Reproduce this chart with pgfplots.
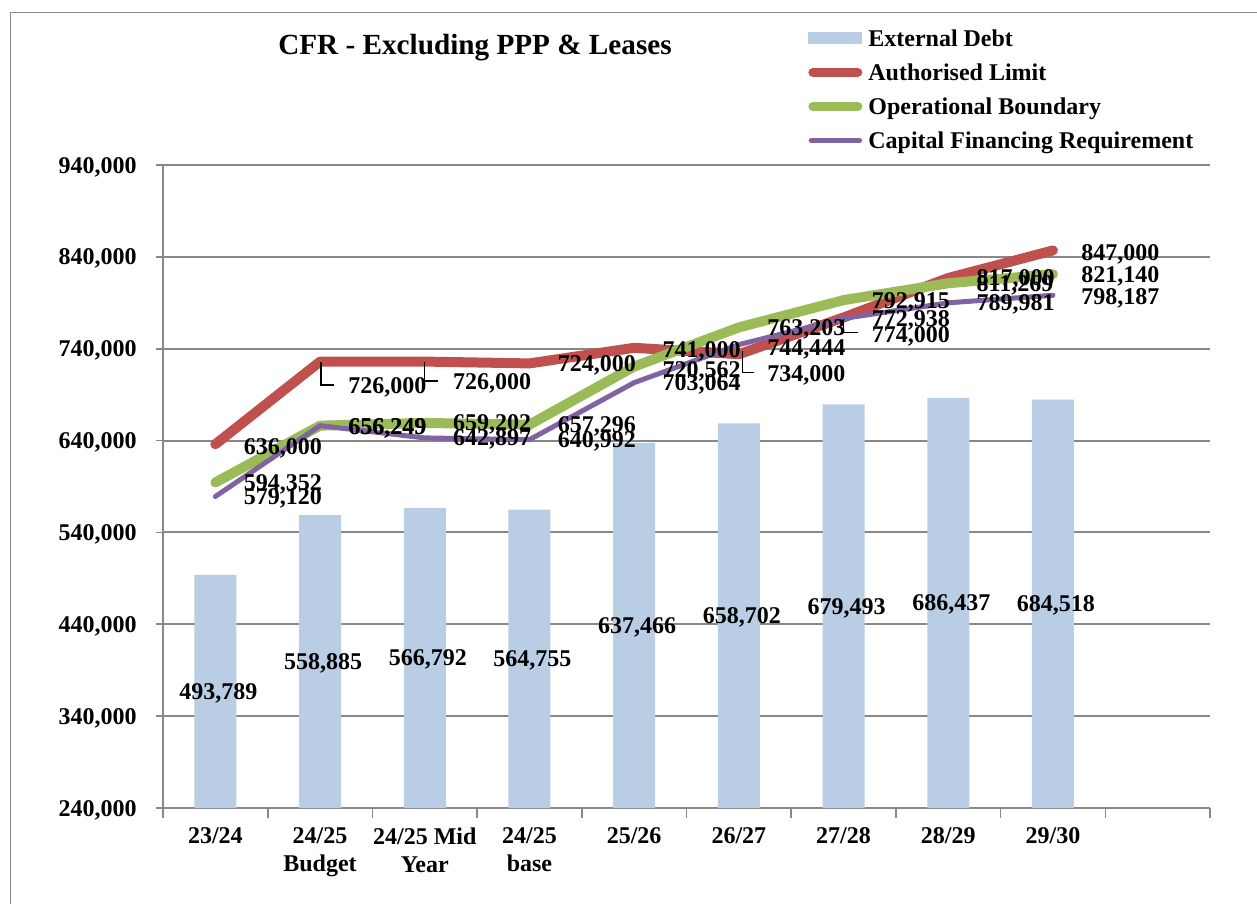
\documentclass[border=0pt]{standalone}
\usepackage{pgfplots}
\pgfplotsset{compat=1.18}
\usepackage{pgfplotstable}
\usepackage{fontspec}
\setmainfont{Liberation Serif}
\definecolor{bargray}{RGB}{185,205,229}
\definecolor{alred}{RGB}{192,80,77}
\definecolor{obgreen}{RGB}{155,187,89}
\definecolor{cfrpurple}{RGB}{128,100,162}
\definecolor{gridgray}{RGB}{136,136,136}

\pgfplotstableread{
x ext lab
0 493789 493,789
1 558885 558,885
2 566792 566,792
3 564755 564,755
4 637466 637,466
5 658702 658,702
6 679493 679,493
7 686437 686,437
8 684518 684,518
}\extdebt

% dy: vertical offset of the data label, in pt
\pgfplotstableread{
x y lab dy
0 636000 636,000 -1
1 726000 726,000 -12
2 726000 726,000 -10
3 724000 724,000 0
4 741000 741,000 -1
5 734000 734,000 -9.5
6 774000 774,000 -8.5
7 817000 817,000 0
8 847000 847,000 -1
}\authlim

\pgfplotstableread{
x y lab dy
0 594352 594,352 0
1 656249 656,249 -0.5
2 659202 659,202 0
3 657296 657,296 0
4 720562 720,562 -1.7
5 763203 763,203 0
6 792915 792,915 0
7 811269 811,269 0
8 821140 821,140 -0.4
}\opbound

\pgfplotstableread{
x y lab dy
0 579120 579,120 0
1 656249 656,249 -0.5
2 642897 642,897 0
3 640992 640,992 0
4 703064 703,064 0
5 744444 744,444 -1.2
6 772938 772,938 0
7 789981 789,981 0
8 798187 798,187 -0.8
}\cfr

\pgfplotsset{
  linelabel/.style={forget plot, draw=none, nodes near coords, point meta=explicit symbolic,
    every node near coord/.append style={anchor=west, xshift=14pt, inner sep=0pt, text height=8pt, text depth=0pt, black}},
}

\begin{document}
\begin{tikzpicture}[font=\bfseries]
\path[use as bounding box] (0,0) rectangle (628.5pt,452pt);
\draw[gridgray, line width=0.75pt] (5.25pt,0) -- (5.25pt,445.75pt) -- (628.5pt,445.75pt);
\node[font=\fontsize{14.6}{17}\selectfont\bfseries, inner sep=0pt] at (237.5pt,428pt) {CFR - Excluding PPP \& Leases};
\begin{axis}[
  at={(81.5pt,48pt)}, anchor=south west,
  scale only axis, width=523.5pt, height=321.5pt,
  xmin=-0.5, xmax=9.5, ymin=240000, ymax=940000,
  clip=false,
  axis lines*=left,
  axis line style={gridgray, line width=1pt},
  ymajorgrids, grid style={gridgray, line width=1pt},
  ytick={240000,340000,...,940000},
  scaled y ticks=false,
  /pgf/number format/fixed,
  /pgf/number format/precision=0,
  /pgf/number format/1000 sep={,},
  /pgf/number format/assume math mode=true,
  font=\fontsize{12}{14}\selectfont\bfseries,
  ticklabel style={font=\fontsize{12}{14}\selectfont\bfseries},
  tick align=outside,
  major tick length=3.5pt,
  minor tick length=5pt,
  tick style={gridgray, line width=0.8pt},
  major x tick style={draw=none},
  xtick={0,...,8},
  xticklabels={23/24, {24/25\\Budget}, {24/25 Mid\\Year}, {24/25\\base}, 25/26, 26/27, 27/28, 28/29, 29/30},
  minor xtick={-0.5,0.5,...,9.5},
  x tick label style={align=center, anchor=north, inner sep=0pt, yshift=-6pt},
  y tick label style={anchor=east, inner sep=0pt, text height=8pt, text depth=0pt, xshift=-9.5pt},
  legend style={at={(0.616,1.213)}, anchor=north west, draw=none, fill=none,
    inner sep=0pt, row sep=5pt, column sep=3pt,
    nodes={inner sep=0pt, text height=9pt, text depth=3pt, font=\fontsize{12}{14}\selectfont\bfseries}},
  legend cell align=left,
]
\addplot[ybar, bar width=21pt, fill=bargray, draw=none,
  legend image code/.code={\fill[bargray] (0pt,-2pt) rectangle (27pt,4pt);}]
  table[x=x, y=ext] {\extdebt};
\addlegendentry{External Debt}
\addplot[alred, line width=5pt, line join=round, line cap=round, mark=none,
  legend image code/.code={\draw[alred, line width=4.5pt, line cap=round] (2.25pt,1pt) -- (24.75pt,1pt);}]
  table[x=x, y=y] {\authlim};
\addlegendentry{Authorised Limit}
\addplot[obgreen, line width=5pt, line join=round, line cap=round, mark=none,
  legend image code/.code={\draw[obgreen, line width=4.5pt, line cap=round] (2.25pt,1pt) -- (24.75pt,1pt);}]
  table[x=x, y=y] {\opbound};
\addlegendentry{Operational Boundary}
\addplot[cfrpurple, line width=2.5pt, line join=round, line cap=round, mark=none,
  legend image code/.code={\draw[cfrpurple, line width=2.8pt, line cap=round] (1.5pt,1pt) -- (25.5pt,1pt);}]
  table[x=x, y=y] {\cfr};
\addlegendentry{Capital Financing Requirement}

% data labels (1pt = 700000/321.5 y-units)
\addplot[forget plot, draw=none, nodes near coords, point meta=explicit symbolic,
  every node near coord/.append style={anchor=center, xshift=1.5pt, inner sep=0pt, text height=8pt, text depth=0pt, black}]
  table[x=x, y expr=(\thisrow{ext}+240000)/2, meta=lab] {\extdebt};
\addplot[linelabel] table[x=x, y expr=\thisrow{y}+2177.3*\thisrow{dy}, meta=lab] {\authlim};
\addplot[linelabel] table[x=x, y expr=\thisrow{y}+2177.3*\thisrow{dy}, meta=lab] {\opbound};
\addplot[linelabel] table[x=x, y expr=\thisrow{y}+2177.3*\thisrow{dy}, meta=lab] {\cfr};

% leader lines
\draw[black, line width=0.6pt] ([xshift=0.5pt]axis cs:1,726000) -- ([xshift=0.5pt,yshift=-11.7pt]axis cs:1,726000) -- ([xshift=7pt,yshift=-11.7pt]axis cs:1,726000);
\draw[black, line width=0.6pt] ([xshift=0pt]axis cs:2,726000) -- ([xshift=0pt,yshift=-9.7pt]axis cs:2,726000) -- ([xshift=6.5pt,yshift=-9.7pt]axis cs:2,726000);
\draw[black, line width=0.6pt] ([xshift=2pt,yshift=1.6pt]axis cs:5,734000) -- ([xshift=2pt,yshift=-9.3pt]axis cs:5,734000) -- ([xshift=7.5pt,yshift=-9.3pt]axis cs:5,734000);
\draw[black, line width=0.6pt] ([yshift=-1pt]axis cs:6,774000) -- ([yshift=-7.5pt]axis cs:6,774000) -- ([xshift=7pt,yshift=-7.5pt]axis cs:6,774000);
\end{axis}
\end{tikzpicture}
\end{document}
